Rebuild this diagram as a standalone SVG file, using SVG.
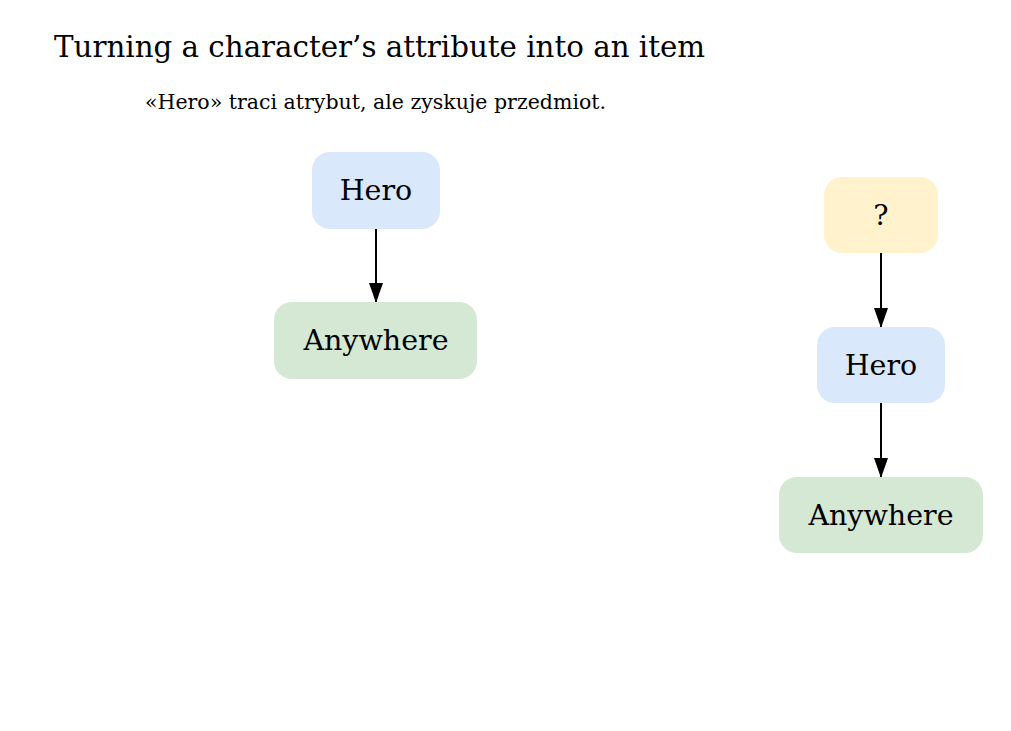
<svg xmlns="http://www.w3.org/2000/svg" width="1011" height="731" viewBox="0 0 1011 731">
<style>
text{font-family:"DejaVu Serif",serif;fill:#000}
.lbl{font-size:28.5px;text-anchor:middle}
.edge{stroke:#000;stroke-width:2;fill:none}
.hero{fill:#dae8fc}
.place{fill:#d5e8d4}
.unk{fill:#fff2cc}
</style>
<defs>
<marker id="ah" markerWidth="20" markerHeight="14" viewBox="0 0 20 14" refX="19" refY="7" orient="auto" markerUnits="userSpaceOnUse">
<path d="M0,0 L20,7 L0,14 Z" fill="#000"/>
</marker>
</defs>
<rect width="1011" height="731" fill="#fff"/>
<text x="54" y="57" font-size="29.3">Turning a character’s attribute into an item</text>
<text x="145" y="109" font-size="20.5">«Hero» traci atrybut, ale zyskuje przedmiot.</text>
<g id="connectors">
<path class="edge" d="M376,229 L376,302" marker-end="url(#ah)"/>
<path class="edge" d="M881,253 L881,327" marker-end="url(#ah)"/>
<path class="edge" d="M881,403 L881,477" marker-end="url(#ah)"/>
</g>
<g id="n-hero-left"><rect class="hero" x="312" y="152" width="128" height="77" rx="18"/><text class="lbl" x="376" y="200">Hero</text></g>
<g id="n-anywhere-left"><rect class="place" x="274" y="302" width="203" height="77" rx="18"/><text class="lbl" x="376" y="350">Anywhere</text></g>
<g id="n-unknown"><rect class="unk" x="824" y="177" width="114" height="76" rx="18"/><text class="lbl" x="881" y="225">?</text></g>
<g id="n-hero-right"><rect class="hero" x="817" y="327" width="128" height="76" rx="18"/><text class="lbl" x="881" y="375">Hero</text></g>
<g id="n-anywhere-right"><rect class="place" x="779" y="477" width="204" height="76" rx="18"/><text class="lbl" x="881" y="525">Anywhere</text></g>
</svg>
